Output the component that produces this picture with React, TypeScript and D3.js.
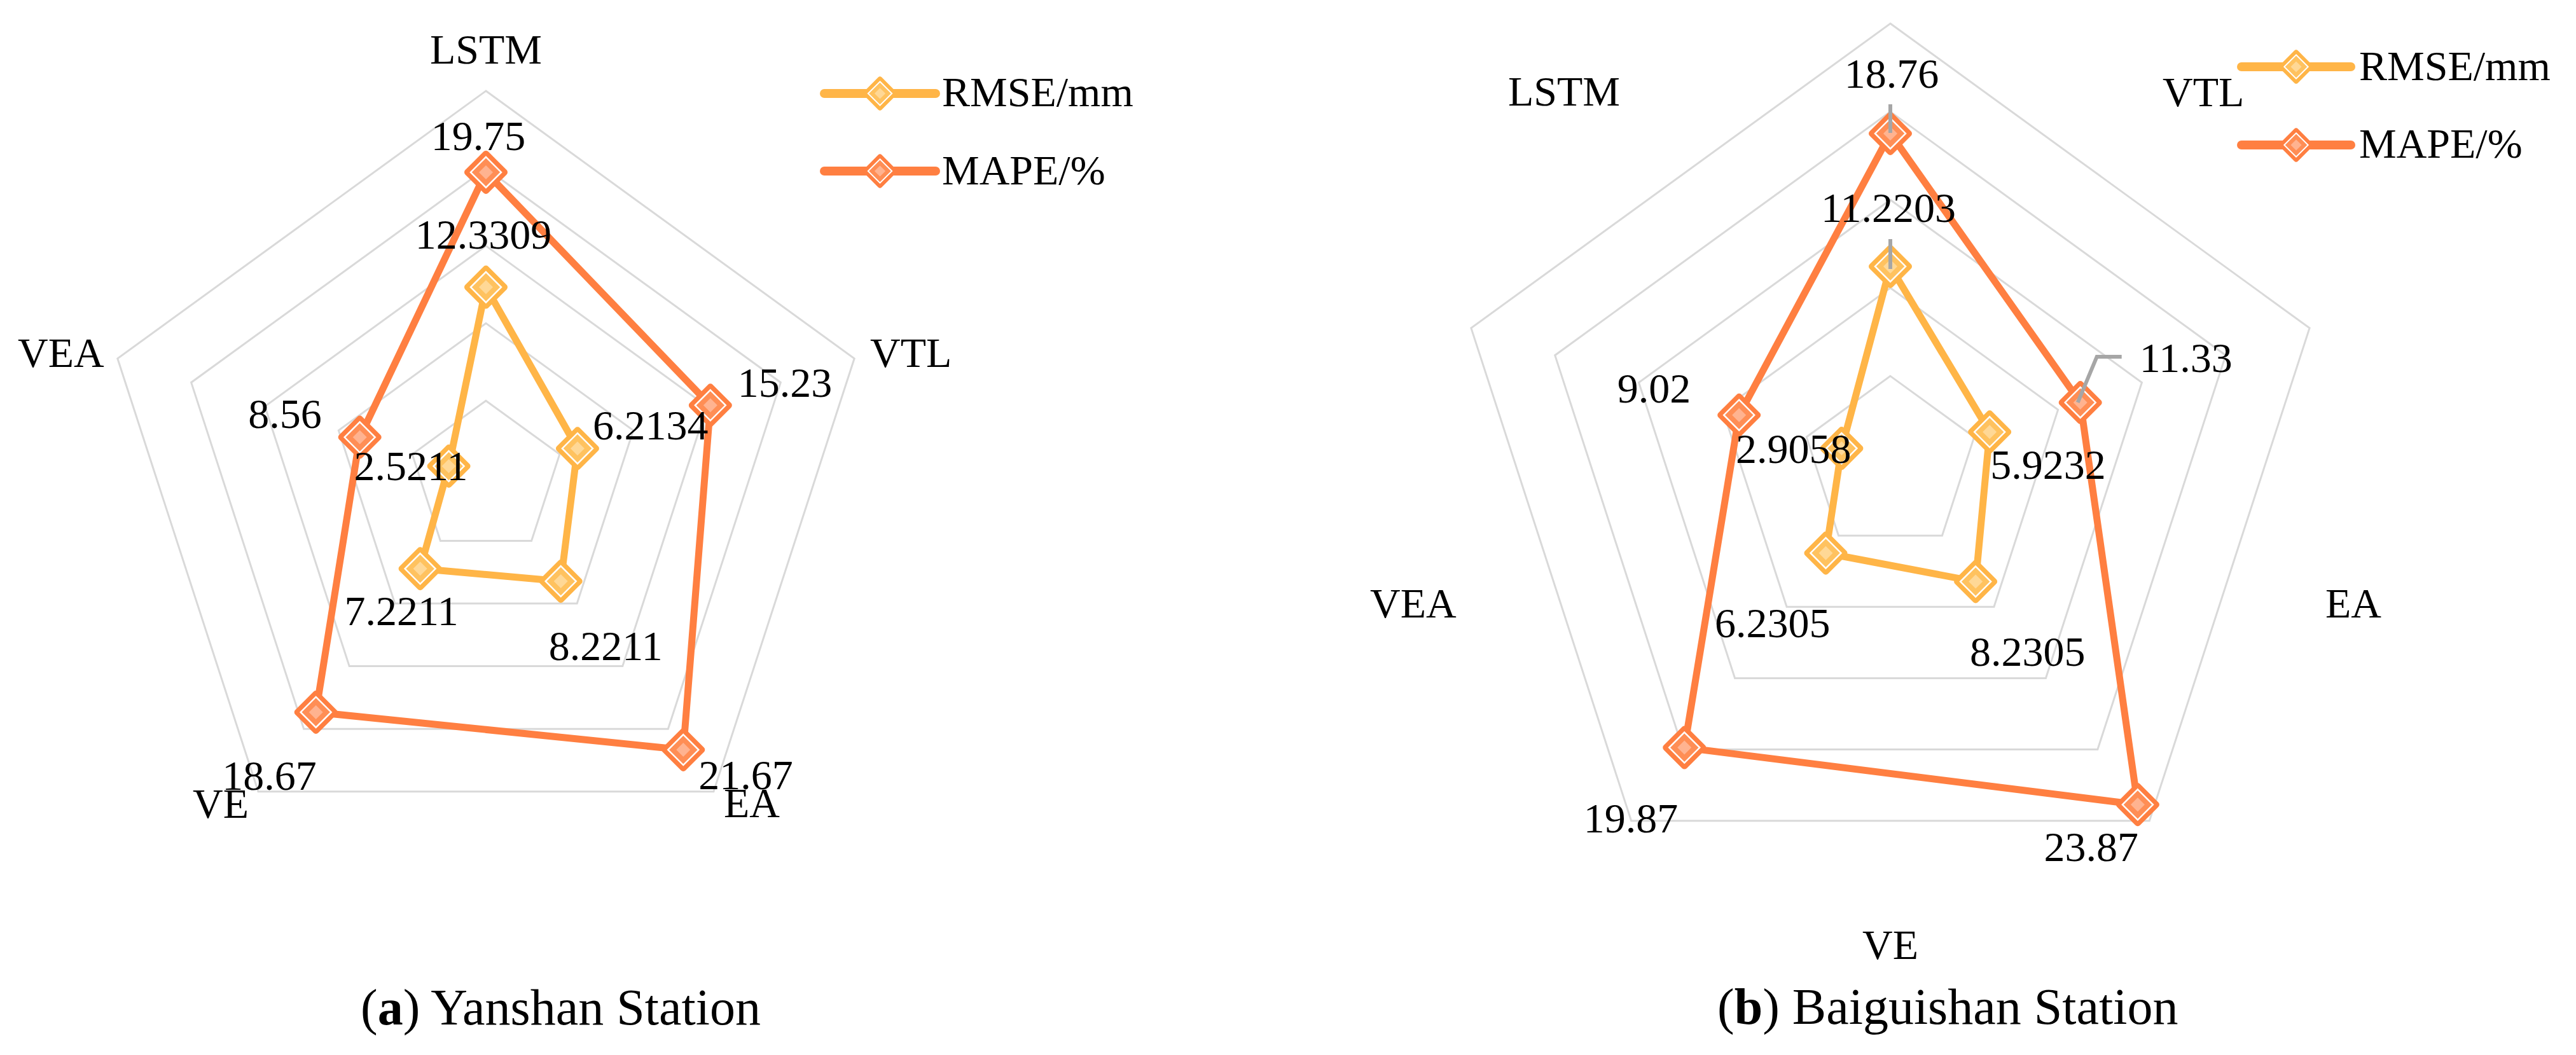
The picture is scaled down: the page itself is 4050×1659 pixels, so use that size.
import React from "react";
import * as d3 from "d3";

const categories = ["LSTM", "VTL", "EA", "VE", "VEA"];
const seriesNames = ["RMSE/mm", "MAPE/%"];
const yanshanRMSE = [12.3309, 6.2134, 8.2211, 7.2211, 2.5211];
const yanshanMAPE = [19.75, 15.23, 21.67, 18.67, 8.56];
const baiguishanRMSE = [11.2203, 5.9232, 8.2305, 6.2305, 2.9058];
const baiguishanMAPE = [18.76, 11.33, 23.87, 19.87, 9.02];
const ringTicks = [5, 10, 15, 20, 25];
const panelLetters = ["a", "b"];
const panelNames = [" Yanshan Station", " Baiguishan Station"];

const COLORS = {
  rmse: { line: "#FFB547", mid: "#FFC25F", light: "#FFD896" },
  mape: { line: "#FF7F41", mid: "#FF8E55", light: "#FFB390" },
};
const GRID = "#D9D9D9";
const FONT = "'Liberation Serif', 'Times New Roman', serif";

type Lbl = [number, number, string];

const panels = [
  {
    cx: 764, cy: 752, R: 609,
    rmse: yanshanRMSE, mape: yanshanMAPE,
    letter: panelLetters[0], name: panelNames[0], titleX: 567, titleY: 1611,
    cat: [[0, -652, "middle"], [604, -175, "start"], [374, 533, "start"], [-461, 534, "start"], [-736, -175, "start"]] as Lbl[],
    rmseLbl: [[-4, -61, "middle"], [24, -14, "start"], [-19, 124, "start"], [-119, 89, "start"], [30, 22, "end"]] as Lbl[],
    mapeLbl: [[-12, -35, "middle"], [43, -13, "start"], [24, 62, "start"], [1, 122, "end"], [-60, -15, "end"]] as Lbl[],
    legend: { x1: 1296, x2: 1471, y: [147, 269], tx: 1481, ty: [167, 290] },
    rmseLeaders: [] as { i: number; pts: [number, number][] }[],
    mapeLeaders: [] as { i: number; pts: [number, number][] }[],
  },
  {
    cx: 2972, cy: 730, R: 693,
    rmse: baiguishanRMSE, mape: baiguishanMAPE,
    letter: panelLetters[1], name: panelNames[1], titleX: 2700, titleY: 1610,
    cat: [[-601, -564, "start"], [428, -563, "start"], [684, 241, "start"], [0, 778, "middle"], [-818, 241, "start"]] as Lbl[],
    rmseLbl: [[-3, -70, "middle"], [1, 74, "start"], [-9, 132, "start"], [7, 132, "end"], [15, 23, "end"]] as Lbl[],
    mapeLbl: [[2, -72, "middle"], [93, -48, "start"], [1, 89, "end"], [-10, 133, "end"], [-76, -20, "end"]] as Lbl[],
    legend: { x1: 3524, x2: 3696, y: [105, 228], tx: 3709, ty: [126, 248] },
    rmseLeaders: [{ i: 0, pts: [[0, -43], [0, 4]] as [number, number][] }],
    mapeLeaders: [
      { i: 0, pts: [[0, -46], [0, -1]] as [number, number][] },
      { i: 1, pts: [[65, -72], [26, -72], [-4, 0]] as [number, number][] },
    ],
  },
];

const diamond = (s: number) => `M0,${-s}L${s},0L0,${s}L${-s},0Z`;

function Marker({ x, y, c, k = 1 }: { x: number; y: number; c: { line: string; mid: string; light: string }; k?: number }) {
  return (
    <g transform={`translate(${x},${y}) scale(${k})`}>
      <path d={diamond(29)} fill={c.line} stroke={c.line} strokeWidth={10} strokeLinejoin="round" />
      <path d={diamond(24)} fill={c.mid} stroke="#FFFFFF" strokeWidth={2.5} />
      <path d={diamond(11)} fill={c.light} />
    </g>
  );
}

function Panel({ p }: { p: (typeof panels)[number] }) {
  const r = d3.scaleLinear().domain([0, 25]).range([0, p.R]);
  const angle = d3.scalePoint<string>().domain(categories).range([0, (2 * Math.PI * 4) / 5]);
  const ringLine = d3.lineRadial<string>().angle((d) => angle(d)!).curve(d3.curveLinearClosed);
  const seriesLine = d3
    .lineRadial<number>()
    .angle((_, i) => angle(categories[i])!)
    .radius((d) => r(d))
    .curve(d3.curveLinearClosed);
  const pt = (v: number, i: number) => d3.pointRadial(angle(categories[i])!, r(v));

  const series = [
    { vals: p.rmse, c: COLORS.rmse, lbl: p.rmseLbl, leaders: p.rmseLeaders },
    { vals: p.mape, c: COLORS.mape, lbl: p.mapeLbl, leaders: p.mapeLeaders },
  ];

  return (
    <g>
      <g transform={`translate(${p.cx},${p.cy})`}>
        {ringTicks.map((t) => (
          <path key={t} d={ringLine.radius(() => r(t))(categories) || ""} fill="none" stroke={GRID} strokeWidth={3} />
        ))}
        {series.map((s, si) => (
          <path key={si} d={seriesLine(s.vals) || ""} fill="none" stroke={s.c.line} strokeWidth={11} strokeLinejoin="round" />
        ))}
        {series.map((s, si) =>
          s.vals.map((v, i) => {
            const [x, y] = pt(v, i);
            return <Marker key={`${si}-${i}`} x={x} y={y} c={s.c} />;
          })
        )}
        {series.map((s, si) =>
          s.leaders.map((l, li) => {
            const [x, y] = pt(s.vals[l.i], l.i);
            return (
              <polyline
                key={`l${si}-${li}`}
                points={l.pts.map(([dx, dy]) => `${x + dx},${y + dy}`).join(" ")}
                fill="none"
                stroke="#A6A6A6"
                strokeWidth={6}
              />
            );
          })
        )}
        {series.map((s, si) =>
          s.vals.map((v, i) => {
            const [x, y] = pt(v, i);
            const [dx, dy, anchor] = s.lbl[i];
            return (
              <text key={`t${si}-${i}`} x={x + dx} y={y + dy} textAnchor={anchor as any} fontSize={66} fontFamily={FONT} fill="#000">
                {String(v)}
              </text>
            );
          })
        )}
        {categories.map((c, i) => {
          const [dx, dy, anchor] = p.cat[i];
          return (
            <text key={c} x={dx} y={dy} textAnchor={anchor as any} fontSize={66} fontFamily={FONT} fill="#000">
              {c}
            </text>
          );
        })}
      </g>
      {seriesNames.map((n, si) => {
        const c = si === 0 ? COLORS.rmse : COLORS.mape;
        const y = p.legend.y[si];
        return (
          <g key={n}>
            <line x1={p.legend.x1} x2={p.legend.x2} y1={y} y2={y} stroke={c.line} strokeWidth={14} strokeLinecap="round" />
            <Marker x={(p.legend.x1 + p.legend.x2) / 2} y={y} c={c} k={0.78} />
            <text x={p.legend.tx} y={p.legend.ty[si]} fontSize={66} fontFamily={FONT} fill="#000">
              {n}
            </text>
          </g>
        );
      })}
      <text x={p.titleX} y={p.titleY} fontSize={80} fontFamily={FONT} fill="#000">
        (<tspan fontWeight="bold">{p.letter}</tspan>){p.name}
      </text>
    </g>
  );
}

export default function App() {
  return (
    <svg
      width={4050}
      height={1659}
      viewBox="0 0 4050 1659"
      style={{ position: "absolute", left: 0, top: 0, background: "#fff" }}
    >
      <rect x={0} y={0} width={4050} height={1659} fill="#fff" />
      {panels.map((p, i) => (
        <Panel key={i} p={p} />
      ))}
    </svg>
  );
}
